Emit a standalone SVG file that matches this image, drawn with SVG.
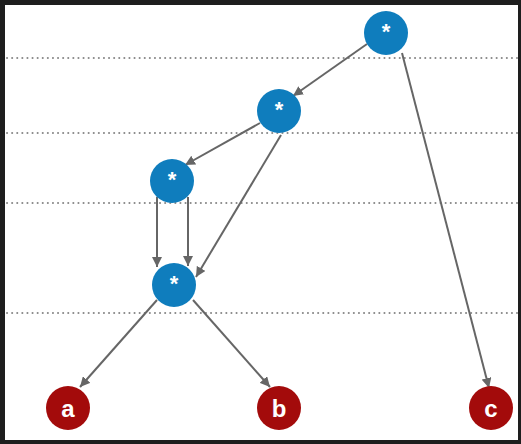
<svg xmlns="http://www.w3.org/2000/svg" width="521" height="444" viewBox="0 0 521 444">
<style>
.op circle{fill:#0f7dbd;}
.leaf circle{fill:#a30b0b;}
.op text,.leaf text{fill:#fff;font-family:"Liberation Sans",Arial,sans-serif;font-weight:bold;text-anchor:middle;}
.op text{font-size:22px;}
.leaf text{font-size:24px;}
.guide{stroke:#888;stroke-width:2;stroke-dasharray:0.1 5;stroke-linecap:round;}
#edges line{stroke:#666;stroke-width:2;marker-end:url(#ah);}
</style>
<defs>
<marker id="ah" markerUnits="userSpaceOnUse" markerWidth="12" markerHeight="10" refX="10" refY="5" orient="auto">
<path d="M0,0 L10,5 L0,10 Z" fill="#666"/>
</marker>
</defs>
<rect x="0" y="0" width="521" height="444" fill="#1e1e1e"/>
<rect x="5" y="5" width="513" height="435" fill="#fff"/>
<g id="guides">
<line class="guide" x1="7" y1="58" x2="517" y2="58"/>
<line class="guide" x1="7" y1="133" x2="517" y2="133"/>
<line class="guide" x1="7" y1="203" x2="517" y2="203"/>
<line class="guide" x1="7" y1="313" x2="517" y2="313"/>
</g>
<g id="edges">
<line x1="367" y1="44" x2="293" y2="96"/>
<line x1="402" y1="53" x2="489" y2="388"/>
<line x1="260" y1="123" x2="185" y2="165"/>
<line x1="281" y1="135" x2="196" y2="277"/>
<line x1="157" y1="197" x2="157" y2="267"/>
<line x1="188" y1="197" x2="188" y2="266"/>
<line x1="157" y1="300" x2="80" y2="387"/>
<line x1="193" y1="300" x2="270" y2="387"/>
</g>
<g id="n1" class="op"><circle cx="386" cy="33" r="22"/><text x="386" y="39">*</text></g>
<g id="n2" class="op"><circle cx="279" cy="111" r="22"/><text x="279" y="117">*</text></g>
<g id="n3" class="op"><circle cx="172" cy="181" r="22"/><text x="172" y="187">*</text></g>
<g id="n4" class="op"><circle cx="174" cy="285" r="22"/><text x="174" y="291">*</text></g>
<g id="a" class="leaf"><circle cx="68" cy="408" r="22"/><text x="68" y="417">a</text></g>
<g id="b" class="leaf"><circle cx="279" cy="408" r="22"/><text x="279" y="417">b</text></g>
<g id="c" class="leaf"><circle cx="491" cy="408" r="22"/><text x="491" y="417">c</text></g>
</svg>
